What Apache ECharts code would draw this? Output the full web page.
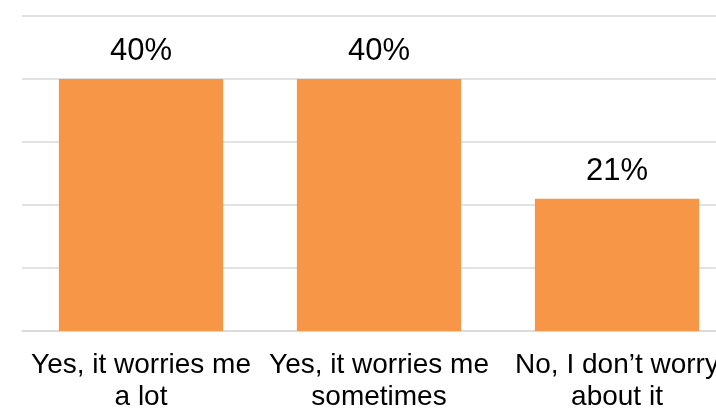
<!DOCTYPE html>
<html>
<head>
<meta charset="utf-8">
<script src="https://cdn.jsdelivr.net/npm/echarts@6/dist/echarts.min.js"></script>
<style>
  html, body { margin: 0; padding: 0; background: #fff; overflow: hidden; }
  /* the plot runs a little past the right edge of the visible frame */
  #frame { width: 716px; height: 411px; overflow: hidden; position: relative; }
  #chart { width: 736px; height: 411px; position: absolute; left: 0; top: 0; }
</style>
</head>
<body>
<div id="frame"><div id="chart"></div></div>
<script>
// Survey answers and their shares (percent)
const categories = [
  'Yes, it worries me\na lot',
  'Yes, it worries me\nsometimes',
  'No, I don\u2019t worry\nabout it'
];
const shares = [40, 40, 21];

const chart = echarts.init(document.getElementById('chart'), null, { renderer: 'canvas' });

chart.setOption({
  animation: false,
  backgroundColor: '#ffffff',
  textStyle: { fontFamily: 'Arial, "Liberation Sans", sans-serif' },
  grid: {
    left: 22, right: 0, top: 16, bottom: 80,
    containLabel: false,
    outerBoundsMode: 'none'
  },
  xAxis: {
    type: 'category',
    data: categories,
    axisTick: { show: false },
    axisLine: { lineStyle: { color: '#D9D9D9', width: 1.5 } },
    axisLabel: {
      interval: 0,
      margin: 18,
      color: '#000000',
      fontSize: 28,
      lineHeight: 32,
      align: 'center'
    }
  },
  yAxis: {
    type: 'value',
    min: 0,
    max: 50,
    interval: 10,
    axisLabel: { show: false },
    axisLine: { show: false },
    axisTick: { show: false },
    splitLine: { lineStyle: { color: '#D9D9D9', width: 1.5 } }
  },
  series: [{
    type: 'bar',
    data: shares,
    barCategoryGap: '31%',
    itemStyle: { color: '#F79646' },
    label: {
      show: true,
      position: 'top',
      distance: 12,
      formatter: '{c}%',
      color: '#000000',
      fontSize: 31,
      lineHeight: 31
    }
  }]
});
</script>
</body>
</html>
